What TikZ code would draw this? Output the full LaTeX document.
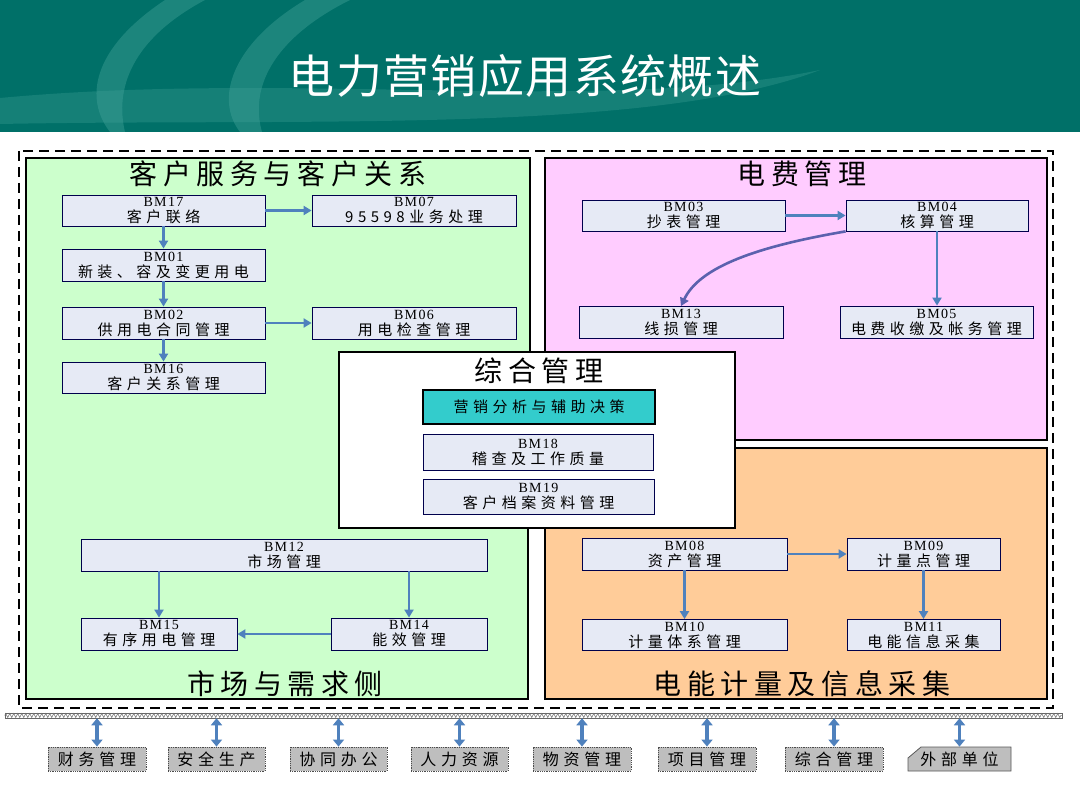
\documentclass[tikz,border=0pt]{standalone}
\usepackage{fontspec}
\setmainfont[LetterSpace=10]{Liberation Serif}
\newfontfamily\cjk[LetterSpace=30]{Noto Sans CJK SC}
\newfontfamily\cjkhead[LetterSpace=20]{Noto Sans CJK SC}
\newfontfamily\cjktitle[LetterSpace=3]{Noto Sans CJK SC}
\usetikzlibrary{positioning, arrows.meta, decorations.pathmorphing}
\definecolor{header}{RGB}{0,112,104}
\definecolor{swoosh}{RGB}{70,165,155}
\definecolor{custgreen}{RGB}{204,255,204}
\definecolor{feepink}{RGB}{255,204,255}
\definecolor{meterorange}{RGB}{255,204,153}
\definecolor{boxfill}{RGB}{230,234,245}
\definecolor{flowblue}{RGB}{79,129,189}
\definecolor{decisionteal}{RGB}{51,204,204}
\definecolor{extgray}{RGB}{190,190,190}

\begin{document}
\begin{tikzpicture}[x=1pt, y=-1pt,
    region/.style={draw=black, line width=2.5pt},
    mod/.style={draw=black!70!blue, line width=0.8pt, fill=boxfill, align=center,
        inner sep=0pt, font=\fontsize{14}{16}\selectfont},
    head/.style={font=\cjkhead\fontsize{28}{28}\selectfont},
    flow/.style={-{Triangle[length=8pt, width=9pt]}, draw=flowblue, line width=2.6pt},
    dbl/.style={{Triangle[length=7pt, width=11pt]}-{Triangle[length=7pt, width=11pt]},
        draw=flowblue, line width=3.5pt},
    unit/.style={fill=extgray, draw=black!70, densely dotted, line width=0.8pt,
        minimum height=24pt, inner sep=0pt, font=\cjk\fontsize{16}{16}\selectfont}]
    % page and header
    \fill[white] (0,0) rectangle (1080,810);
    \fill[header] (0,0) rectangle (1080,132);
    \fill[swoosh, opacity=0.4] (165,0) .. controls (90,50) and (85,100) .. (110,132)
        -- (125,132) .. controls (115,90) and (130,40) .. (205,0) -- cycle;
    \fill[swoosh, opacity=0.4] (305,0) .. controls (230,45) and (215,100) .. (240,132)
        -- (262,132) .. controls (250,90) and (270,40) .. (350,0) -- cycle;
    \fill[swoosh, opacity=0.3] (0,98) .. controls (300,70) and (600,115) .. (820,70)
        .. controls (650,135) and (300,118) .. (0,124) -- cycle;
    \node[font=\cjktitle\fontsize{46}{46}\selectfont, text=white] (title) at (525,76) {电力营销应用系统概述};

    % regions
    \draw[line width=2.5pt, dash pattern=on 10pt off 6pt] (19,151) rectangle (1053,708);
    \draw[region, fill=custgreen] (26,158) -- (530,158) -- (530,352) -- (339,352) -- (339,528)
        -- (528,528) -- (528,699) -- (26,699) -- cycle;
    \draw[region, fill=feepink] (545,158) -- (1047,158) -- (1047,440) -- (735,440) -- (735,352)
        -- (545,352) -- cycle;
    \draw[region, fill=meterorange] (545,528) -- (735,528) -- (735,448) -- (1047,448)
        -- (1047,699) -- (545,699) -- cycle;
    \draw[region, fill=white] (339,352) rectangle (735,528);

    \node[head] (custtitle) at (278,174) {客户服务与客户关系};
    \node[head] (feetitle) at (802,174) {电费管理};
    \node[head] (mgmttitle) at (539,371) {综合管理};
    \node[head] (markettitle) at (285,684) {市场与需求侧};
    \node[head] (metertitle) at (802,684) {电能计量及信息采集};

    % customer service
    \node[mod, minimum width=203pt, minimum height=31pt] (bm17) at (163.5,210.5) {BM17\\{\cjk\fontsize{15}{16}\selectfont 客户联络}};
    \node[mod, minimum width=204pt, minimum height=31pt] (bm07) at (414,210.5) {BM07\\{\cjk\fontsize{15}{16}\selectfont 95598业务处理}};
    \node[mod, minimum width=203pt, minimum height=32pt] (bm01) at (163.5,265) {BM01\\{\cjk\fontsize{15}{16}\selectfont 新装、容及变更用电}};
    \node[mod, minimum width=203pt, minimum height=32pt] (bm02) at (163.5,323) {BM02\\{\cjk\fontsize{15}{16}\selectfont 供用电合同管理}};
    \node[mod, minimum width=204pt, minimum height=32pt] (bm06) at (414,323) {BM06\\{\cjk\fontsize{15}{16}\selectfont 用电检查管理}};
    \node[mod, minimum width=203pt, minimum height=31pt] (bm16) at (163.5,377.5) {BM16\\{\cjk\fontsize{15}{16}\selectfont 客户关系管理}};
    \draw[flow] (bm17) -- (bm07);
    \draw[flow] (bm17) -- (bm01);
    \draw[flow] (bm01) -- (bm02);
    \draw[flow] (bm02) -- (bm06);
    \draw[flow] (bm02) -- (bm16);

    % market
    \node[mod, minimum width=406pt, minimum height=32pt] (bm12) at (284,555) {BM12\\{\cjk\fontsize{15}{16}\selectfont 市场管理}};
    \node[mod, minimum width=156pt, minimum height=32pt] (bm15) at (159,634) {BM15\\{\cjk\fontsize{15}{16}\selectfont 有序用电管理}};
    \node[mod, minimum width=156pt, minimum height=32pt] (bm14) at (409,634) {BM14\\{\cjk\fontsize{15}{16}\selectfont 能效管理}};
    \draw[flow] (bm12.south -| bm15.north) -- (bm15.north);
    \draw[flow] (bm12.south -| bm14.north) -- (bm14.north);
    \draw[flow] (bm14) -- (bm15);

    % fees
    \node[mod, minimum width=203pt, minimum height=31pt] (bm03) at (683.5,215.5) {BM03\\{\cjk\fontsize{15}{16}\selectfont 抄表管理}};
    \node[mod, minimum width=182pt, minimum height=31pt] (bm04) at (937,215.5) {BM04\\{\cjk\fontsize{15}{16}\selectfont 核算管理}};
    \node[mod, minimum width=204pt, minimum height=32pt] (bm13) at (681,322.5) {BM13\\{\cjk\fontsize{15}{16}\selectfont 线损管理}};
    \node[mod, minimum width=193pt, minimum height=32pt] (bm05) at (936.5,322) {BM05\\{\cjk\fontsize{15}{16}\selectfont 电费收缴及帐务管理}};
    \draw[flow] (bm03) -- (bm04);
    \draw[flow] (bm04.south) -- (bm05.north -| bm04.south);
    \draw[flow, draw=flowblue!75!violet] (bm04.south west) .. controls (760,246) and (700,266) .. (bm13.north);

    % overall management
    \node[mod, fill=decisionteal, draw=black, line width=2.5pt, minimum width=232pt, minimum height=34pt] (decide) at (539,407) {\cjk\fontsize{15}{16}\selectfont 营销分析与辅助决策};
    \node[mod, minimum width=230pt, minimum height=36pt] (bm18) at (538,452) {BM18\\{\cjk\fontsize{15}{16}\selectfont 稽查及工作质量}};
    \node[mod, minimum width=231pt, minimum height=35pt] (bm19) at (538.5,496.5) {BM19\\{\cjk\fontsize{15}{16}\selectfont 客户档案资料管理}};

    % metering
    \node[mod, minimum width=205pt, minimum height=32pt] (bm08) at (684.5,554) {BM08\\{\cjk\fontsize{15}{16}\selectfont 资产管理}};
    \node[mod, minimum width=153pt, minimum height=32pt] (bm09) at (923.5,554) {BM09\\{\cjk\fontsize{15}{16}\selectfont 计量点管理}};
    \node[mod, minimum width=205pt, minimum height=31pt] (bm10) at (684.5,635) {BM10\\{\cjk\fontsize{15}{16}\selectfont 计量体系管理}};
    \node[mod, minimum width=153pt, minimum height=31pt] (bm11) at (923.5,635) {BM11\\{\cjk\fontsize{15}{16}\selectfont 电能信息采集}};
    \draw[flow] (bm08) -- (bm09);
    \draw[flow] (bm08) -- (bm10);
    \draw[flow] (bm09) -- (bm11);

    % outside systems
    \node[draw=black!60, fill=white, line width=0.5pt, minimum width=1057pt, minimum height=5pt, inner sep=0pt] (bar) at (533.5,715.5) {};
    \draw[black!55, line width=0.5pt, decorate, decoration={zigzag, segment length=4pt, amplitude=2pt}] (bar.west) -- (bar.east);
    \node[unit, minimum width=98pt] (finance) at (97,759) {财务管理};
    \node[unit, minimum width=97pt] (safety) at (216.5,759) {安全生产};
    \node[unit, minimum width=97pt] (office) at (338.5,759) {协同办公};
    \node[unit, minimum width=97pt] (staff) at (459.5,759) {人力资源};
    \node[unit, minimum width=98pt] (material) at (582,759) {物资管理};
    \node[unit, minimum width=98pt] (project) at (707,759) {项目管理};
    \node[unit, minimum width=98pt] (general) at (834,759) {综合管理};
    \filldraw[fill=extgray, draw=black!65, line width=0.8pt] (908,771) -- (908,758) -- (921,747)
        -- (1011,747) -- (1011,771) -- cycle;
    \node[unit, fill=none, draw=none, minimum width=103pt] (outside) at (959.5,759) {外部单位};
    \foreach \u in {finance, safety, office, staff, material, project, general, outside}
        \draw[dbl] (bar.south -| \u.north) -- (\u.north);
\end{tikzpicture}
\end{document}
